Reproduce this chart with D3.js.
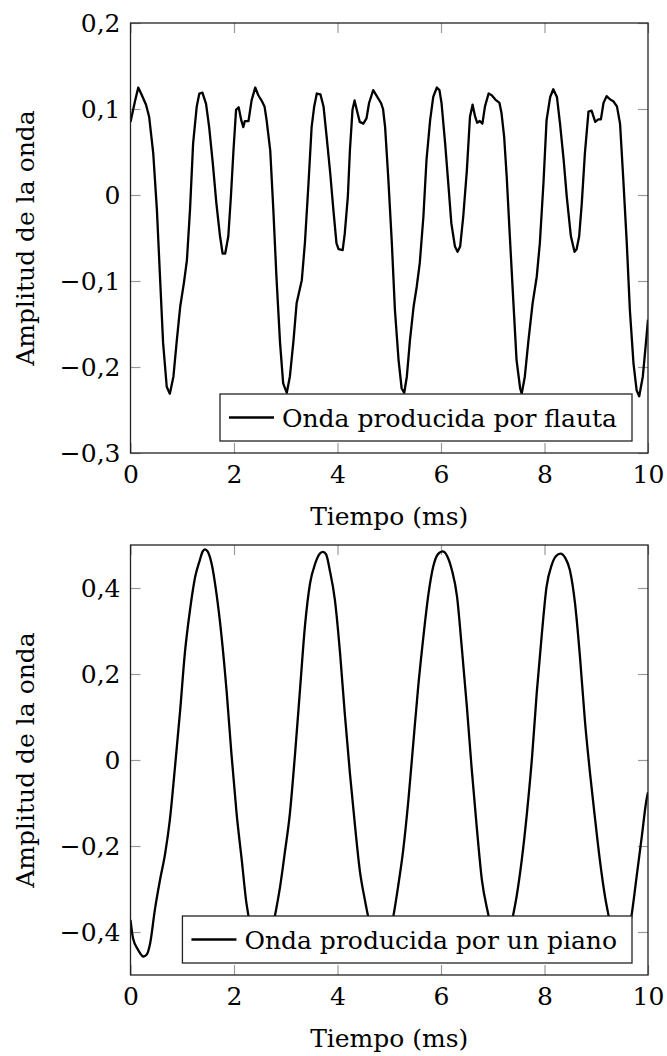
<!DOCTYPE html>
<html>
<head>
<meta charset="utf-8">
<script src="https://cdn.jsdelivr.net/npm/d3@7"></script>
<style>
  body { margin: 0; background: #fff; }
  svg text { font-family: "DejaVu Serif", serif; fill: #000; }
</style>
</head>
<body>
<svg id="chart" width="667" height="1056"></svg>
<script>
// flute wave (ms, amplitude)
var fluteTime = [0.00,0.09,0.15,0.22,0.30,0.36,0.44,0.51,0.57,0.63,0.70,0.76,0.83,0.89,0.96,1.03,1.09,1.15,1.21,1.28,
  1.33,1.39,1.46,1.52,1.59,1.66,1.73,1.78,1.83,1.89,1.94,1.99,2.04,2.09,2.14,2.18,2.21,2.28,2.34,2.41,
  2.47,2.54,2.59,2.63,2.70,2.76,2.82,2.89,2.95,3.02,3.08,3.15,3.21,3.31,3.37,3.44,3.50,3.55,3.60,3.67,
  3.73,3.79,3.86,3.92,3.98,4.02,4.10,4.14,4.20,4.24,4.29,4.33,4.38,4.43,4.50,4.56,4.61,4.69,4.76,4.84,
  4.88,4.92,4.98,5.05,5.11,5.18,5.24,5.29,5.34,5.40,5.47,5.53,5.59,5.66,5.72,5.79,5.85,5.92,5.97,6.01,
  6.08,6.14,6.20,6.27,6.32,6.37,6.43,6.50,6.56,6.61,6.66,6.70,6.75,6.80,6.85,6.92,6.98,7.05,7.13,7.17,
  7.22,7.27,7.33,7.40,7.46,7.53,7.56,7.62,7.69,7.77,7.85,7.91,7.98,8.04,8.11,8.17,8.24,8.30,8.37,8.43,
  8.51,8.58,8.62,8.67,8.72,8.78,8.85,8.91,8.98,9.04,9.09,9.14,9.20,9.27,9.33,9.40,9.46,9.52,9.59,9.65,
  9.72,9.78,9.83,9.90,9.96,10.00];
var fluteAmp = [0.085,0.110,0.125,0.116,0.105,0.091,0.048,-0.017,-0.095,-0.172,-0.223,-0.231,-0.211,-0.172,-0.130,-0.103,-0.076,-0.017,0.060,0.103,
  0.118,0.119,0.106,0.079,0.037,-0.010,-0.048,-0.068,-0.068,-0.048,-0.002,0.052,0.099,0.102,0.087,0.079,0.086,0.086,0.110,0.125,
  0.116,0.109,0.103,0.087,0.052,-0.017,-0.095,-0.172,-0.219,-0.230,-0.211,-0.169,-0.126,-0.099,-0.056,0.014,0.079,0.103,0.118,0.117,
  0.103,0.068,0.025,-0.017,-0.056,-0.063,-0.064,-0.045,-0.002,0.052,0.099,0.110,0.097,0.085,0.083,0.089,0.107,0.122,0.115,0.107,
  0.100,0.079,0.021,-0.056,-0.134,-0.192,-0.225,-0.230,-0.211,-0.169,-0.130,-0.107,-0.079,-0.025,0.041,0.087,0.114,0.125,0.122,0.107,
  0.060,0.014,-0.033,-0.060,-0.066,-0.060,-0.025,0.029,0.091,0.105,0.091,0.084,0.086,0.083,0.103,0.118,0.116,0.111,0.107,0.095,
  0.068,0.021,-0.048,-0.126,-0.192,-0.225,-0.231,-0.211,-0.169,-0.126,-0.095,-0.056,0.014,0.087,0.114,0.123,0.114,0.083,0.041,-0.002,
  -0.048,-0.066,-0.063,-0.048,-0.010,0.048,0.097,0.098,0.085,0.088,0.088,0.107,0.115,0.111,0.109,0.103,0.083,0.021,-0.056,-0.134,
  -0.196,-0.227,-0.234,-0.211,-0.172,-0.145];

// piano wave (ms, amplitude)
var pianoTime = [0.00,0.05,0.15,0.25,0.31,0.38,0.47,0.57,0.67,0.76,0.86,0.96,1.05,1.15,1.25,1.34,1.39,1.44,1.49,1.57,
  1.66,1.76,1.86,1.95,2.05,2.15,2.24,2.35,2.45,2.56,2.67,2.79,2.89,2.98,3.08,3.18,3.28,3.37,3.47,3.57,
  3.66,3.72,3.78,3.85,3.95,4.05,4.14,4.24,4.34,4.43,4.53,4.59,4.70,4.82,4.94,5.08,5.17,5.27,5.37,5.47,
  5.56,5.66,5.76,5.85,5.95,6.03,6.12,6.21,6.31,6.40,6.50,6.59,6.69,6.79,6.92,7.02,7.13,7.25,7.39,7.46,
  7.56,7.66,7.76,7.85,7.95,8.04,8.14,8.22,8.31,8.40,8.49,8.59,8.69,8.78,8.88,8.98,9.07,9.17,9.24,9.35,
  9.45,9.56,9.68,9.78,9.88,9.97,10.00];
var pianoAmp = [-0.372,-0.415,-0.442,-0.457,-0.453,-0.426,-0.349,-0.279,-0.217,-0.140,-0.016,0.116,0.248,0.349,0.426,0.465,0.484,0.490,0.485,0.455,
  0.388,0.287,0.156,0.015,-0.124,-0.233,-0.333,-0.405,-0.445,-0.458,-0.430,-0.363,-0.295,-0.217,-0.124,0.015,0.171,0.310,0.411,0.457,
  0.480,0.484,0.478,0.442,0.372,0.248,0.109,-0.031,-0.155,-0.256,-0.326,-0.363,-0.425,-0.455,-0.440,-0.363,-0.295,-0.209,-0.093,0.047,
  0.171,0.287,0.388,0.450,0.480,0.485,0.474,0.442,0.380,0.264,0.124,-0.016,-0.155,-0.279,-0.363,-0.425,-0.456,-0.435,-0.363,-0.318,
  -0.233,-0.124,0.008,0.156,0.295,0.403,0.454,0.474,0.480,0.470,0.442,0.364,0.233,0.093,-0.031,-0.140,-0.233,-0.318,-0.363,-0.425,
  -0.455,-0.430,-0.363,-0.271,-0.178,-0.093,-0.075];

var xTicks = [0, 2, 4, 6, 8, 10];
var xTickLabels = ["0", "2", "4", "6", "8", "10"];
var fluteYTicks = [-0.3, -0.2, -0.1, 0, 0.1, 0.2];
var fluteYLabels = ["\u22120,3", "\u22120,2", "\u22120,1", "0", "0,1", "0,2"];
var pianoYTicks = [-0.4, -0.2, 0, 0.2, 0.4];
var pianoYLabels = ["\u22120,4", "\u22120,2", "0", "0,2", "0,4"];

var xTitle = "Tiempo (ms)";
var yTitle = "Amplitud de la onda";

var svg = d3.select("#chart");
var fontSize = 25;
var font = "DejaVu Serif, serif";

var left = 130.5, right = 648;

var panels = [
  { top: 23, bottom: 453, domain: [-0.3, 0.2], t: fluteTime, v: fluteAmp,
    ticks: fluteYTicks, labels: fluteYLabels, legend: "Onda producida por flauta", curve: d3.curveLinear },
  { top: 545, bottom: 975, domain: [-0.5, 0.5], t: pianoTime, v: pianoAmp,
    ticks: pianoYTicks, labels: pianoYLabels, legend: "Onda producida por un piano", curve: d3.curveMonotoneX }
];

panels.forEach(function(p, k) {
  var x = d3.scaleLinear().domain([0, 10]).range([left, right]);
  var y = d3.scaleLinear().domain(p.domain).range([p.bottom, p.top]);
  var g = svg.append("g");

  // clip
  var clipId = "clip" + k;
  svg.append("clipPath").attr("id", clipId)
    .append("rect")
    .attr("x", left).attr("y", p.top)
    .attr("width", right - left).attr("height", p.bottom - p.top);

  // ticks inside on all four sides, labels bottom / left only
  var xFmt = function(d) { return xTickLabels[xTicks.indexOf(d)]; };
  var yFmt = function(d) { return p.labels[p.ticks.indexOf(d)]; };

  var axB = g.append("g").attr("transform", "translate(0," + p.bottom + ")")
    .call(d3.axisBottom(x).tickValues(xTicks).tickFormat(xFmt).tickSizeInner(-10).tickSizeOuter(0).tickPadding(12));
  var axT = g.append("g").attr("transform", "translate(0," + p.top + ")")
    .call(d3.axisTop(x).tickValues(xTicks).tickFormat("").tickSizeInner(-10).tickSizeOuter(0));
  var axL = g.append("g").attr("transform", "translate(" + left + ",0)")
    .call(d3.axisLeft(y).tickValues(p.ticks).tickFormat(yFmt).tickSizeInner(-10).tickSizeOuter(0).tickPadding(10));
  var axR = g.append("g").attr("transform", "translate(" + right + ",0)")
    .call(d3.axisRight(y).tickValues(p.ticks).tickFormat("").tickSizeInner(-10).tickSizeOuter(0));

  [axB, axT, axL, axR].forEach(function(a) {
    a.select(".domain").remove();
    a.selectAll(".tick line").attr("stroke", "#9a9a9a").attr("stroke-width", 1.2);
    a.selectAll("text").attr("font-size", fontSize).attr("font-family", font).attr("fill", "#000");
  });

  // wave
  var line = d3.line()
    .x(function(d) { return x(d[0]); })
    .y(function(d) { return y(d[1]); })
    .curve(p.curve);

  g.append("path")
    .datum(d3.zip(p.t, p.v))
    .attr("clip-path", "url(#" + clipId + ")")
    .attr("fill", "none")
    .attr("stroke", "#000")
    .attr("stroke-width", 2.3)
    .attr("stroke-linejoin", "round")
    .attr("d", line);

  // frame
  g.append("rect")
    .attr("x", left).attr("y", p.top)
    .attr("width", right - left).attr("height", p.bottom - p.top)
    .attr("fill", "none").attr("stroke", "#222").attr("stroke-width", 1.3);

  // legend, anchored bottom right
  var leg = g.append("g");
  var box = leg.append("rect").attr("fill", "#fff").attr("stroke", "#222").attr("stroke-width", 1.3);
  var txt = leg.append("text").attr("font-size", fontSize).attr("font-family", font).text(p.legend);
  var tw = txt.node().getComputedTextLength();
  var bw = 62 + tw + 15, bh = 47;
  var bx = right - 16 - bw, by = p.bottom - 12 - bh;
  box.attr("x", bx).attr("y", by).attr("width", bw).attr("height", bh);
  leg.append("line")
    .attr("x1", bx + 9).attr("x2", bx + 54)
    .attr("y1", by + bh / 2).attr("y2", by + bh / 2)
    .attr("stroke", "#000").attr("stroke-width", 2.3);
  txt.attr("x", bx + 62).attr("y", by + bh / 2).attr("dy", "0.36em");

  // axis titles
  g.append("text")
    .attr("x", (left + right) / 2).attr("y", p.bottom + 63).attr("dy", "0.36em")
    .attr("text-anchor", "middle").attr("font-size", fontSize).attr("font-family", font)
    .text(xTitle);
  g.append("text")
    .attr("transform", "translate(25," + ((p.top + p.bottom) / 2) + ") rotate(-90)")
    .attr("dy", "0.36em")
    .attr("text-anchor", "middle").attr("font-size", fontSize).attr("font-family", font)
    .text(yTitle);
});
</script>
</body>
</html>
